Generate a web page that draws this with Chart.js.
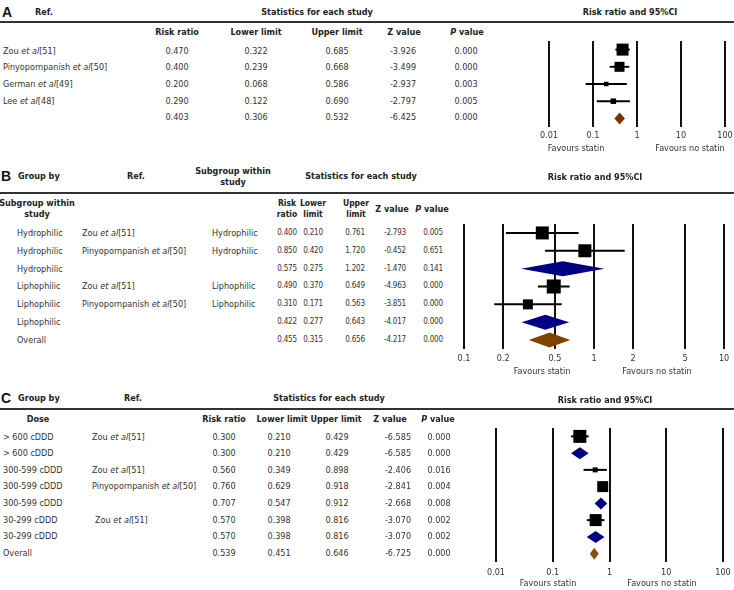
<!DOCTYPE html>
<html>
<head>
<meta charset="utf-8">
<script src="https://cdn.jsdelivr.net/npm/chart.js@4.4.1/dist/chart.umd.min.js"></script>
<style>
body{margin:0;width:734px;height:590px;background:#fff;position:relative;overflow:hidden}
.t{position:absolute;white-space:nowrap;font-family:'DejaVu Sans Condensed','DejaVu Sans',sans-serif;font-size:9px;line-height:12px;color:#333}
.b{font-weight:bold;color:#222}
.s{font-size:8px;letter-spacing:-0.2px}
.sh{font-size:8.5px}
.L{font-family:'Liberation Sans',Arial,sans-serif;font-size:14px;font-weight:bold;color:#111}
.rule{position:absolute;left:0;width:734px;height:2px;background:#333}
canvas{position:absolute}
</style>
</head>
<body>
<script>
// panel A - all studies
var refsA = ['Zou et al[51]', 'Pinyopornpanish et al[50]', 'German et al[49]', 'Lee et al[48]', ''];
var rrA = [0.470, 0.400, 0.200, 0.290, 0.403];
var lowA = [0.322, 0.239, 0.068, 0.122, 0.306];
var upA = [0.685, 0.668, 0.586, 0.690, 0.532];
var zA = [-3.926, -3.499, -2.937, -2.797, -6.425];
var pA = [0.000, 0.000, 0.003, 0.005, 0.000];
var kindA = ['study', 'study', 'study', 'study', 'overall'];

// panel B - by statin type
var groupB = ['Hydrophilic', 'Hydrophilic', 'Hydrophilic', 'Liphophilic', 'Liphophilic', 'Liphophilic', 'Overall'];
var refsB = ['Zou et al[51]', 'Pinyopornpanish et al[50]', '', 'Zou et al[51]', 'Pinyopornpanish et al[50]', '', ''];
var subB = ['Hydrophilic', 'Hydrophilic', '', 'Liphophilic', 'Liphophilic', '', ''];
var rrB = [0.400, 0.850, 0.575, 0.490, 0.310, 0.422, 0.455];
var lowB = [0.210, 0.420, 0.275, 0.370, 0.171, 0.277, 0.315];
var upB = [0.761, 1.720, 1.202, 0.649, 0.563, 0.643, 0.656];
var zB = [-2.793, -0.452, -1.470, -4.963, -3.851, -4.017, -4.217];
var pB = [0.005, 0.651, 0.141, 0.000, 0.000, 0.000, 0.000];
var kindB = ['study', 'study', 'subgroup', 'study', 'study', 'subgroup', 'overall'];

// panel C - by dose
var doseC = ['> 600 cDDD', '> 600 cDDD', '300-599 cDDD', '300-599 cDDD', '300-599 cDDD', '30-299 cDDD', '30-299 cDDD', 'Overall'];
var refsC = ['Zou et al[51]', '', 'Zou et al[51]', 'Pinyopornpanish et al[50]', '', 'Zou et al[51]', '', ''];
var rrC = [0.300, 0.300, 0.560, 0.760, 0.707, 0.570, 0.570, 0.539];
var lowC = [0.210, 0.210, 0.349, 0.629, 0.547, 0.398, 0.398, 0.451];
var upC = [0.429, 0.429, 0.898, 0.918, 0.912, 0.816, 0.816, 0.646];
var zC = [-6.585, -6.585, -2.406, -2.841, -2.668, -3.070, -3.070, -6.725];
var pC = [0.000, 0.000, 0.016, 0.004, 0.008, 0.002, 0.002, 0.000];
var kindC = ['study', 'subgroup', 'study', 'study', 'subgroup', 'study', 'subgroup', 'overall'];

var ticksAC = [0.01, 0.1, 1, 10, 100];
var ticksB = [0.1, 0.2, 0.5, 1, 2, 5, 10];

// box sizes (px) for the study squares
var boxA = [12, 10, 4.5, 5.5, 0];
var boxB = [13, 13, 0, 14, 10, 0, 0];
var boxC = [13, 0, 5, 11, 0, 12, 0, 0];

function put(html, x, y, align, cls) {
    var d = document.createElement('div');
    d.className = 't ' + (cls || '');
    d.innerHTML = html;
    d.style.top = (y - 6) + 'px';
    d.style.left = x + 'px';
    if (align == 'c') d.style.transform = 'translateX(-50%)';
    document.body.appendChild(d);
}
function rule(y) {
    var d = document.createElement('div');
    d.className = 'rule';
    d.style.top = (y - 1) + 'px';
    document.body.appendChild(d);
}
function refHtml(s) {
    return s.replace('et al', '<i>et al</i>');
}
function f3(v) {
    return v.toFixed(3);
}

/**
 * forest plot through a log x scale, one row per y unit
 */
function addForest(cfg) {
    var c = document.createElement('canvas');
    c.width = cfg.w;
    c.height = cfg.h;
    c.style.left = cfg.left + 'px';
    c.style.top = cfg.top + 'px';
    c.style.width = cfg.w + 'px';
    c.style.height = cfg.h + 'px';
    document.body.appendChild(c);
    var n = cfg.rr.length;
    var marks = {
        id: 'marks',
        beforeDatasetsDraw: function (chart) {
            var ctx = chart.ctx, x = chart.scales.x, y = chart.scales.y;
            ctx.save();
            ctx.strokeStyle = '#000';
            ctx.lineWidth = 2;
            for (var i = 0; i < n; i++) {
                if (cfg.kind[i] != 'study') continue;
                var py = y.getPixelForValue(i);
                ctx.beginPath();
                ctx.moveTo(x.getPixelForValue(cfg.low[i]), py);
                ctx.lineTo(x.getPixelForValue(cfg.up[i]), py);
                ctx.stroke();
            }
            ctx.restore();
        },
        afterDatasetsDraw: function (chart) {
            var ctx = chart.ctx, x = chart.scales.x, y = chart.scales.y;
            ctx.save();
            for (var i = 0; i < n; i++) {
                if (cfg.kind[i] == 'study') continue;
                var py = y.getPixelForValue(i), h = cfg.diam / 2;
                ctx.fillStyle = cfg.kind[i] == 'overall' ? cfg.overallColor : '#000080';
                ctx.beginPath();
                ctx.moveTo(x.getPixelForValue(cfg.low[i]), py);
                ctx.lineTo(x.getPixelForValue(cfg.rr[i]), py - h);
                ctx.lineTo(x.getPixelForValue(cfg.up[i]), py);
                ctx.lineTo(x.getPixelForValue(cfg.rr[i]), py + h);
                ctx.closePath();
                ctx.fill();
            }
            ctx.restore();
        }
    };
    return new Chart(c, {
        type: 'scatter',
        data: {
            datasets: [{
                data: cfg.rr.map(function (v, i) { return {x: v, y: i}; }),
                pointStyle: 'rect',
                pointRadius: cfg.kind.map(function (k, i) { return k == 'study' ? cfg.box[i] / Math.SQRT2 : 0; }),
                backgroundColor: '#000',
                borderWidth: 0
            }]
        },
        options: {
            responsive: false,
            animation: false,
            events: [],
            layout: {padding: {left: cfg.padL, right: cfg.padR, top: cfg.padT, bottom: 0}},
            plugins: {legend: {display: false}, tooltip: {enabled: false}},
            scales: {
                x: {
                    type: 'logarithmic',
                    min: cfg.ticks[0],
                    max: cfg.ticks[cfg.ticks.length - 1],
                    afterBuildTicks: function (s) {
                        s.ticks = cfg.ticks.map(function (v) { return {value: v}; });
                    },
                    afterFit: function (s) {
                        s.height = 20;
                        s.paddingLeft = 0;
                        s.paddingRight = 0;
                    },
                    grid: {color: '#111', lineWidth: 2, drawTicks: false},
                    border: {display: false},
                    ticks: {
                        autoSkip: false,
                        maxRotation: 0,
                        padding: cfg.tickPad,
                        color: '#333',
                        font: {family: "'DejaVu Sans Condensed','DejaVu Sans',sans-serif", size: 9},
                        callback: function (v) { return String(v); }
                    }
                },
                y: {type: 'linear', display: false, min: -0.5, max: n - 0.5, reverse: true}
            }
        },
        plugins: [marks]
    });
}

// ---------- A ----------
put('A', 2, 12, 'l', 'L');
put('Ref.', 35, 12, 'l', 'b');
put('Statistics for each study', 317, 12, 'c', 'b');
put('Risk ratio and 95%CI', 630, 12, 'c', 'b');
rule(22);
put('Risk ratio', 177, 32, 'c', 'b');
put('Lower limit', 256, 32, 'c', 'b');
put('Upper limit', 337, 32, 'c', 'b');
put('Z value', 404, 32, 'c', 'b');
put('<i>P</i> value', 467, 32, 'c', 'b');
var rowsA = [50.5, 67, 84, 100.5, 117];
for (var i = 0; i < rrA.length; i++) {
    put(refHtml(refsA[i]), 3, rowsA[i]);
    put(f3(rrA[i]), 177, rowsA[i], 'c');
    put(f3(lowA[i]), 256, rowsA[i], 'c');
    put(f3(upA[i]), 337, rowsA[i], 'c');
    put(f3(zA[i]), 403, rowsA[i], 'c');
    put(f3(pA[i]), 466, rowsA[i], 'c');
}
addForest({left: 520, top: 30, w: 214, h: 117, padL: 29, padR: 9, padT: 11, tickPad: 3,
    rr: rrA, low: lowA, up: upA, kind: kindA, box: boxA, diam: 12, overallColor: '#7a3200', ticks: ticksAC});
put('Favours statin', 576, 148, 'c');
put('Favours no statin', 690, 148, 'c');

// ---------- B ----------
put('B', 1, 176, 'l', 'L');
put('Group by', 18, 176, 'l', 'b');
put('Ref.', 136, 176, 'c', 'b');
put('Subgroup within', 233, 171, 'c', 'b');
put('study', 233, 182, 'c', 'b');
put('Statistics for each study', 361, 176, 'c', 'b');
put('Risk ratio and 95%CI', 595, 177, 'c', 'b');
rule(193);
put('Subgroup within', 37, 203, 'c', 'b');
put('study', 37, 214, 'c', 'b');
put('Risk', 287, 203, 'c', 'b sh');
put('ratio', 287, 214, 'c', 'b sh');
put('Lower', 313, 203, 'c', 'b sh');
put('limit', 313, 214, 'c', 'b sh');
put('Upper', 356, 203, 'c', 'b sh');
put('limit', 356, 214, 'c', 'b sh');
put('Z value', 392, 209, 'c', 'b');
put('<i>P</i> value', 432, 209, 'c', 'b');
var rowsB = [233, 251, 268.5, 286, 304, 322, 339.5];
for (var i = 0; i < rrB.length; i++) {
    put(groupB[i], 17, rowsB[i]);
    put(refHtml(refsB[i]), 82, rowsB[i]);
    put(subB[i], 212, rowsB[i]);
    put(f3(rrB[i]), 287, rowsB[i], 'c', 's');
    put(f3(lowB[i]), 313, rowsB[i], 'c', 's');
    put(f3(upB[i]), 355, rowsB[i], 'c', 's');
    put(f3(zB[i]), 395, rowsB[i], 'c', 's');
    put(f3(pB[i]), 433, rowsB[i], 'c', 's');
}
addForest({left: 440, top: 214, w: 294, h: 155, padL: 24, padR: 5, padT: 10, tickPad: 4,
    rr: rrB, low: lowB, up: upB, kind: kindB, box: boxB, diam: 15, overallColor: '#7f4300', ticks: ticksB});
put('Favours statin', 542, 371, 'c');
put('Favours no statin', 657, 371, 'c');

// ---------- C ----------
put('C', 1, 398, 'l', 'L');
put('Group by', 18, 398, 'l', 'b');
put('Ref.', 133, 398, 'c', 'b');
put('Statistics for each study', 329, 398, 'c', 'b');
put('Risk ratio and 95%CI', 605, 400, 'c', 'b');
rule(409);
put('Dose', 38, 419, 'c', 'b');
put('Risk ratio', 224, 419, 'c', 'b');
put('Lower limit', 282, 419, 'c', 'b');
put('Upper limit', 336, 419, 'c', 'b');
put('Z value', 390, 419, 'c', 'b');
put('<i>P</i> value', 438, 419, 'c', 'b');
var rowsC = [437, 453, 469.5, 486, 503, 520, 536, 553];
for (var i = 0; i < rrC.length; i++) {
    put(doseC[i], 3, rowsC[i]);
    put(refHtml(refsC[i]), i == 5 ? 95 : 92, rowsC[i]);
    put(f3(rrC[i]), 224, rowsC[i], 'c');
    put(f3(lowC[i]), 279, rowsC[i], 'c');
    put(f3(upC[i]), 337, rowsC[i], 'c');
    put(f3(zC[i]), 398, rowsC[i], 'c');
    put(f3(pC[i]), 439, rowsC[i], 'c');
}
addForest({left: 470, top: 418, w: 264, h: 164, padL: 26, padR: 11, padT: 10, tickPad: 5,
    rr: rrC, low: lowC, up: upC, kind: kindC, box: boxC, diam: 12, overallColor: '#8a4b14', ticks: ticksAC});
put('Favours statin', 548, 583, 'c');
put('Favours no statin', 662, 583, 'c');
</script>
</body>
</html>
